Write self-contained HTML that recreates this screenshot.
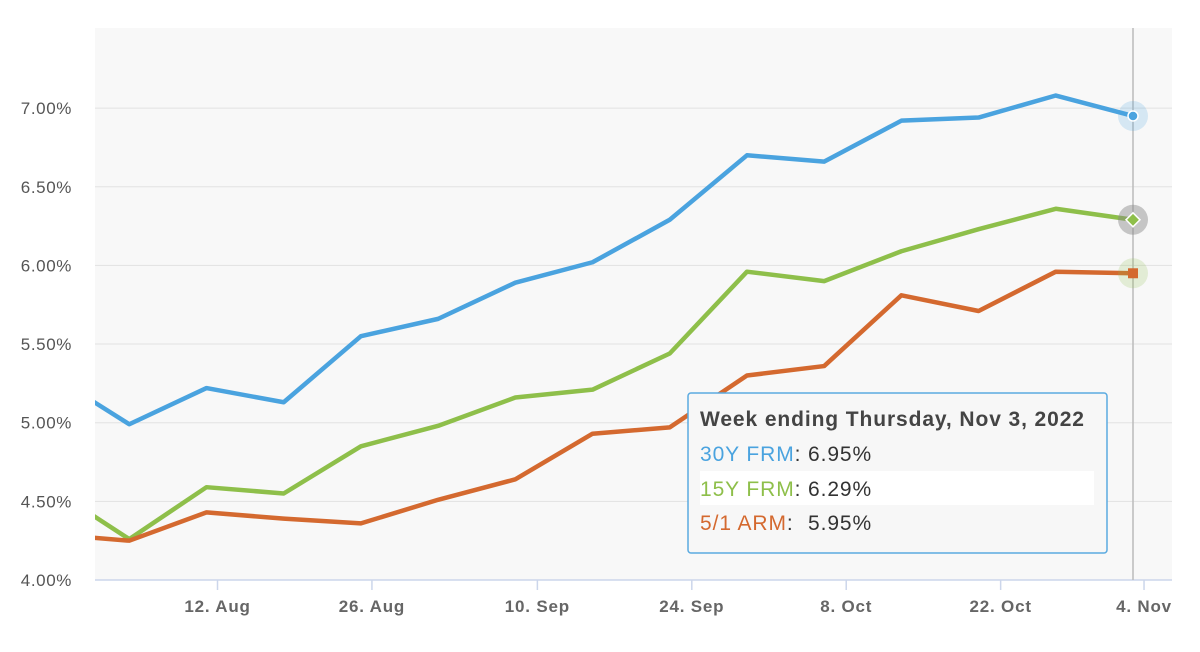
<!DOCTYPE html>
<html><head><meta charset="utf-8"><style>
body{margin:0;background:#fff;font-family:"Liberation Sans",sans-serif}
svg{display:block}
</style></head><body>
<svg id="chart" width="1200" height="652" viewBox="0 0 1200 652">
<rect x="95" y="28" width="1077" height="552" fill="#f8f8f8"/>
<g id="grid"></g><g id="xaxis"></g><g id="yaxis"></g>
<defs><clipPath id="clip"><rect x="95" y="20" width="1077" height="565"/></clipPath></defs>
<g id="lines" clip-path="url(#clip)"></g>
<line x1="1133" y1="28" x2="1133" y2="580" stroke="#bbb" stroke-width="1.5"/>
<g id="markers"></g>
<g>
<rect x="688" y="393" width="419" height="160" rx="3" fill="#f7f7f7" stroke="#5aaae0" stroke-width="1.5"/>
<rect x="700" y="471" width="394" height="34" fill="#fff"/>
<text x="700" y="426" font-size="21" font-weight="bold" fill="#444" letter-spacing="0.9">Week ending Thursday, Nov 3, 2022</text>
<g font-size="21" letter-spacing="0.9">
<text x="700" y="461" fill="#4aa3df">30Y FRM<tspan fill="#333">:</tspan></text><text x="808" y="461" fill="#333">6.95%</text>
<text x="700" y="496" fill="#8ebf4a">15Y FRM<tspan fill="#333">:</tspan></text><text x="808" y="496" fill="#333">6.29%</text>
<text x="700" y="530" fill="#d4692f">5/1 ARM<tspan fill="#333">:</tspan></text><text x="808" y="530" fill="#333">5.95%</text>
</g>
</g>
</svg>
<script>
const weeks=["Jul 28","Aug 4","Aug 11","Aug 18","Aug 25","Sep 1","Sep 8","Sep 15","Sep 22","Sep 29","Oct 6","Oct 13","Oct 20","Oct 27","Nov 3"];
const frm30=[5.30,4.99,5.22,5.13,5.55,5.66,5.89,6.02,6.29,6.70,6.66,6.92,6.94,7.08,6.95];
const frm15=[4.58,4.26,4.59,4.55,4.85,4.98,5.16,5.21,5.44,5.96,5.90,6.09,6.23,6.36,6.29];
const arm51=[4.29,4.25,4.43,4.39,4.36,4.51,4.64,4.93,4.97,5.30,5.36,5.81,5.71,5.96,5.95];
const yTicks=[4.0,4.5,5.0,5.5,6.0,6.5,7.0];
const xTickLabels=["12. Aug","26. Aug","10. Sep","24. Sep","8. Oct","22. Oct","4. Nov"];
const xTickDays=[15,29,44,58,72,86,99]; // days after Jul 28
const NS="http://www.w3.org/2000/svg";
const x=d=>1133-(98-d)*11.03;
const xi=i=>x(i*7);
const y=v=>580-(v-4)*157.3;
function mk(tag,attrs,parent){const e=document.createElementNS(NS,tag);for(const k in attrs)e.setAttribute(k,attrs[k]);document.getElementById(parent).appendChild(e);return e;}
yTicks.forEach(v=>{
 if(v>4){const g=mk('line',{x1:95,x2:1172,y1:y(v),y2:y(v),stroke:'#e2e2e2','stroke-width':1},'grid');
 
 }
 const t=mk('text',{x:72,y:y(v)+6,'text-anchor':'end','font-size':17,'letter-spacing':0.6,fill:'#555'},'yaxis');
 t.textContent=v.toFixed(2)+'%';
 
 
});
const ax=mk('line',{x1:95,x2:1172,y1:580,y2:580,stroke:'#ccd6eb','stroke-width':1.5},'xaxis');


xTickLabels.forEach((l,i)=>{
 const px=x(xTickDays[i]);
 const tk=mk('line',{x1:px,x2:px,y1:580,y2:590,stroke:'#ccd6eb','stroke-width':1.5},'xaxis');
 
 
 const t=mk('text',{x:px,y:612,'text-anchor':'middle','font-size':17,'letter-spacing':0.8,'font-weight':'bold',fill:'#666'},'xaxis');
 t.textContent=l;
 
 
});
const series=[[frm30,'#4aa3df','line-30y-frm'],[frm15,'#8ebf4a','line-15y-frm'],[arm51,'#d4692f','line-5-1-arm']];
series.forEach(([d,c,n])=>{
 const p=mk('polyline',{points:d.map((v,i)=>xi(i)+','+y(v)).join(' '),fill:'none',stroke:c,'stroke-width':4.5,'stroke-linejoin':'round'},'lines');
 
 
});
const L=weeks.length-1,lx=xi(L);
let h=mk('circle',{cx:lx,cy:y(frm30[L]),r:15,fill:'#4aa3df',opacity:0.2},'markers');


h=mk('circle',{cx:lx,cy:y(frm30[L]),r:5,fill:'#4aa3df',stroke:'#fff','stroke-width':1.5},'markers');


h=mk('circle',{cx:lx,cy:y(frm15[L]),r:15,fill:'#888',opacity:0.45},'markers');


h=mk('polygon',{points:`${lx},${y(frm15[L])-7} ${lx+7},${y(frm15[L])} ${lx},${y(frm15[L])+7} ${lx-7},${y(frm15[L])}`,fill:'#8ebf4a',stroke:'#fff','stroke-width':1.5},'markers');


h=mk('circle',{cx:lx,cy:y(arm51[L]),r:15,fill:'#8ebf4a',opacity:0.2},'markers');


h=mk('rect',{x:lx-5,y:y(arm51[L])-5,width:10,height:10,fill:'#d4692f'},'markers');


</script>
</body></html>
